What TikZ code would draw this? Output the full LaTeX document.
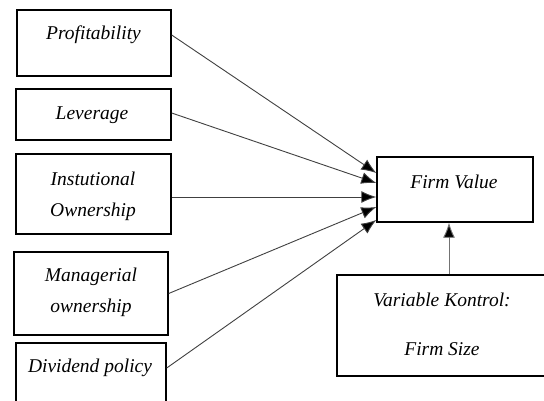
\documentclass[tikz,border=0pt]{standalone}
\usepackage{fontspec}
\setmainfont{Liberation Serif}
\usetikzlibrary{arrows.meta,calc}

\begin{document}
\begin{tikzpicture}[%
            x=1pt,
            y=-1pt,
            box/.style={
                draw,
                line width=1.4pt,
                inner sep=0pt,
            },
            lbl/.style={
                font=\fontsize{19.5}{31}\selectfont\itshape,
                align=center,
                inner sep=0pt,
            },
            arr/.style={
                draw=black!75,
                line width=0.9pt,
                -{Latex[length=15pt,width=12pt,fill=black]},
            },
        ]
        \clip (0,0) rectangle (544,401);
        \node[box, minimum width=154, minimum height=66] (profit) at (94,43) {};
        \node[box, minimum width=155, minimum height=51] (lev) at (93.5,114.5) {};
        \node[box, minimum width=155, minimum height=80] (inst) at (93.5,194) {};
        \node[box, minimum width=154, minimum height=83] (manag) at (91,293.5) {};
        \node[box, minimum width=150, minimum height=77] (divid) at (91,381.5) {};
        \node[box, minimum width=156, minimum height=65] (fv) at (455,189.5) {};
        \node[box, minimum width=233, minimum height=101] (ctrl) at (453.5,325.5) {};

        \node[lbl] (profitT) at (93.5,35) {Profitability};
        \node[lbl] (levT) at (92,115) {Leverage};
        \node[lbl] (instT) at (93,196) {Instutional\\Ownership};
        \node[lbl] (managT) at (91,292) {Managerial\\ownership};
        \node[lbl] (dividT) at (90,368) {Dividend policy};
        \node[lbl] (fvT) at (454,182) {Firm Value};
        \node[lbl] (ctrlT) at (442,324.5) {Variable Kontrol:\\[18pt]Firm Size};

        \draw[arr] ($(profit.east)+(0,-8)$) -- ($(fv.west)+(0,-16.5)$);
        \draw[arr] ($(lev.east)+(0,-1.5)$) -- ($(fv.west)+(0,-6.5)$);
        \draw[arr] ($(inst.east)+(0,3)$) -- ($(fv.west)+(0,7.5)$);
        \draw[arr] (manag.east) -- ($(fv.west)+(0,17.5)$);
        \draw[arr] ($(divid.east)+(0,-13.5)$) -- ($(fv.west)+(0,30.5)$);
        \draw[arr, draw=black!55] ($(ctrl.north)+(-4.5,0)$) -- ($(fv.south)+(-6,0)$);
    \end{tikzpicture}
\end{document}
